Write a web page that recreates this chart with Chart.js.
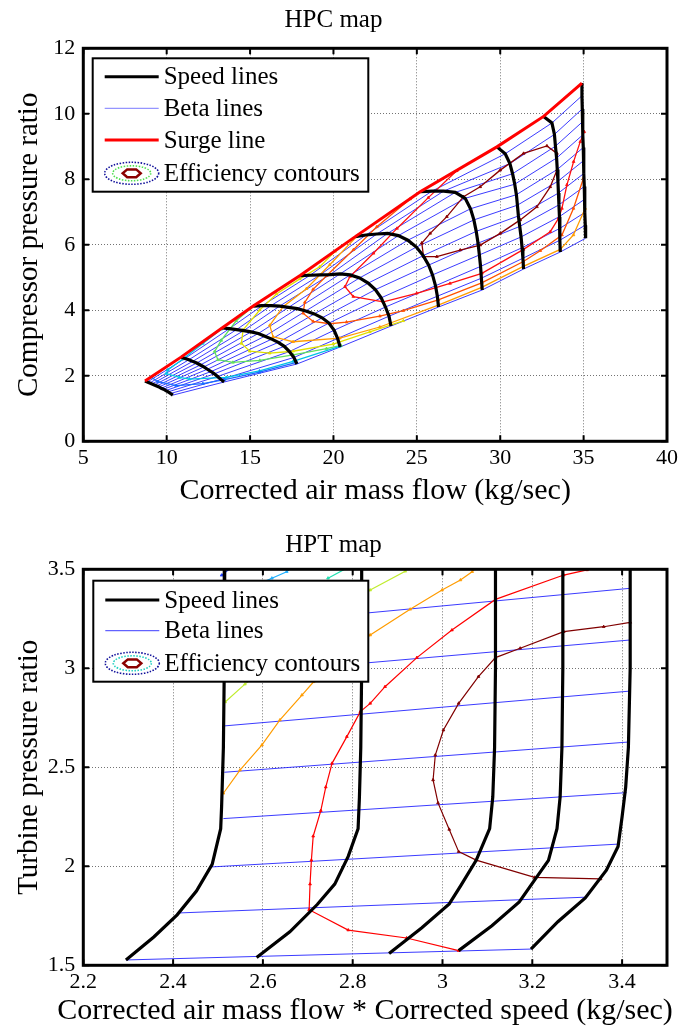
<!DOCTYPE html>
<html>
<head>
<meta charset="utf-8">
<script src="https://cdn.jsdelivr.net/npm/chart.js@4.4.0/dist/chart.umd.min.js"></script>
<style>
  html, body { margin: 0; padding: 0; background: #fff; }
  canvas { display: block; }
</style>
</head>
<body>
<canvas id="hpcChart" width="694" height="514" style="width:694px;height:514px"></canvas>
<canvas id="hptChart" width="694" height="514" style="width:694px;height:514px"></canvas>
<script>
// ---- HPC map data ----
// each speed line: points from the surge line (first) to the choke end (last)
const hpcN1 = [[8.70,1.84],[8.84,1.81],[8.98,1.78],[9.12,1.75],[9.26,1.72],[9.40,1.69],[9.54,1.66],[9.67,1.62],[9.81,1.59],[9.95,1.55],[10.09,1.51],[10.23,1.46],[10.37,1.41]];
const hpcN2 = [[10.86,2.57],[11.10,2.53],[11.33,2.49],[11.56,2.44],[11.80,2.39],[12.02,2.33],[12.23,2.27],[12.44,2.20],[12.66,2.13],[12.86,2.06],[13.05,1.98],[13.25,1.89],[13.44,1.81]];
const hpcN3 = [[13.32,3.46],[13.76,3.44],[14.19,3.41],[14.62,3.38],[15.06,3.34],[15.49,3.29],[15.89,3.21],[16.30,3.12],[16.69,3.02],[17.05,2.90],[17.36,2.74],[17.63,2.56],[17.81,2.36]];
const hpcN4 = [[15.19,4.13],[15.72,4.14],[16.25,4.14],[16.78,4.13],[17.31,4.09],[17.83,4.05],[18.34,3.98],[18.85,3.89],[19.32,3.77],[19.73,3.61],[20.04,3.39],[20.25,3.14],[20.40,2.88]];
const hpcN5 = [[18.00,5.06],[18.60,5.07],[19.20,5.08],[19.80,5.09],[20.40,5.11],[21.00,5.08],[21.57,4.99],[22.08,4.83],[22.51,4.63],[22.86,4.38],[23.12,4.10],[23.33,3.82],[23.45,3.52]];
const hpcN6 = [[21.31,6.25],[21.95,6.30],[22.60,6.33],[23.25,6.35],[23.89,6.28],[24.46,6.14],[24.97,5.93],[25.38,5.67],[25.71,5.38],[25.94,5.08],[26.12,4.75],[26.23,4.43],[26.30,4.10]];
const hpcN7 = [[25.20,7.62],[25.91,7.64],[26.61,7.64],[27.30,7.60],[27.90,7.42],[28.22,7.10],[28.42,6.76],[28.56,6.41],[28.67,6.05],[28.75,5.69],[28.82,5.34],[28.87,4.98],[28.92,4.62]];
const hpcN8 = [[29.80,8.99],[30.30,8.78],[30.58,8.48],[30.74,8.17],[30.87,7.85],[30.97,7.53],[31.03,7.21],[31.09,6.88],[31.17,6.56],[31.25,6.24],[31.31,5.91],[31.36,5.59],[31.40,5.26]];
const hpcN9 = [[32.60,9.92],[33.10,9.72],[33.25,9.37],[33.31,9.01],[33.38,8.65],[33.42,8.30],[33.46,7.94],[33.49,7.58],[33.52,7.22],[33.55,6.86],[33.57,6.50],[33.58,6.14],[33.60,5.78]];
const hpcN10 = [[34.90,10.94],[34.90,10.55],[34.92,10.15],[34.94,9.76],[34.96,9.36],[34.98,8.97],[35.00,8.57],[35.02,8.18],[35.04,7.78],[35.06,7.39],[35.08,6.99],[35.10,6.60],[35.12,6.20]];

// efficiency contours (outer to inner)
const hpcEffBlue = [[9.07,1.96],[9.47,1.82],[10.57,1.70],[12.17,1.76],[13.47,1.88],[15.57,2.11],[17.78,2.41]];
const hpcEffCyan = [[13.27,3.42],[12.17,2.99],[10.97,2.51],[10.07,2.18],[9.97,2.07],[10.77,1.95],[11.37,1.90],[13.57,1.95],[15.57,2.15],[17.58,2.44],[20.38,2.90]];
const hpcEffGreen = [[14.97,4.03],[14.17,3.68],[13.27,3.08],[12.87,2.74],[13.07,2.49],[13.97,2.41],[15.58,2.47],[17.58,2.64],[19.58,2.83],[20.45,2.93]];
const hpcEffYellow = [[20.10,5.80],[19.18,5.33],[17.98,4.96],[16.58,4.50],[15.58,4.01],[14.58,3.40],[14.48,2.99],[14.98,2.75],[16.18,2.69],[17.58,2.75],[19.98,2.97],[22.18,3.34],[24.19,3.68]];
const hpcEffOrange = [[21.50,6.31],[19.78,5.39],[18.38,4.66],[16.98,4.11],[16.18,3.54],[16.38,3.19],[17.58,3.04],[20.38,3.15],[22.78,3.49],[26.29,4.16],[28.89,4.70],[31.39,5.34],[33.60,5.86],[34.39,6.30],[35.09,7.11]];
const hpcEffOrangeRed = [[24.60,7.40],[22.60,6.55],[21.20,5.85],[19.60,5.06],[18.78,4.64],[18.28,4.24],[18.18,3.91],[18.78,3.66],[19.78,3.59],[20.78,3.64],[22.78,3.82],[24.19,3.99],[26.29,4.32],[28.89,4.84],[31.39,5.49],[32.40,5.82],[33.70,6.30],[34.39,7.11],[34.99,8.03]];
const hpcEffRed = [[27.39,8.26],[25.69,7.44],[23.81,6.50],[22.40,5.74],[20.99,5.03],[20.69,4.72],[21.19,4.42],[22.99,4.26],[24.99,4.52],[26.99,4.82],[28.90,5.13],[31.40,5.86],[33.00,6.40],[33.50,6.81],[33.70,7.11],[34.00,7.83],[34.40,8.54],[34.80,9.15],[35.04,9.45]];
const hpcEffDarkRed = [[25.30,6.05],[25.40,5.64],[26.20,5.64],[27.60,5.84],[28.80,5.99],[30.00,6.35],[31.20,6.76],[32.20,7.16],[33.00,7.77],[33.40,8.28],[33.40,8.79],[32.80,9.02],[31.40,8.79],[30.00,8.28],[28.80,7.77],[27.80,7.47],[26.80,6.86],[25.80,6.35],[25.30,6.05]];

const hpcXTicks = [5, 10, 15, 20, 25, 30, 35, 40];
const hpcYTicks = [0, 2, 4, 6, 8, 10, 12];
const hpcLegendLabels = ['Speed lines', 'Beta lines', 'Surge line', 'Efficiency contours'];

// ---- HPT map data ----
const hptN1 = [[2.515,3.51],[2.514,3.00],[2.512,2.60],[2.508,2.30],[2.506,2.19],[2.487,2.01],[2.452,1.875],[2.409,1.755],[2.357,1.643],[2.295,1.527]];
const hptN2 = [[2.820,3.51],[2.820,3.00],[2.818,2.60],[2.815,2.35],[2.812,2.19],[2.790,2.05],[2.760,1.91],[2.721,1.807],[2.660,1.669],[2.586,1.539]];
const hptN3 = [[3.118,3.51],[3.118,3.00],[3.116,2.60],[3.112,2.35],[3.105,2.19],[3.075,2.03],[3.040,1.90],[3.015,1.81],[2.954,1.69],[2.881,1.56]];
const hptN4 = [[3.268,3.51],[3.268,3.00],[3.266,2.60],[3.262,2.35],[3.255,2.19],[3.236,2.03],[3.205,1.93],[3.171,1.82],[3.110,1.70],[3.036,1.574]];
const hptN5 = [[3.418,3.51],[3.418,3.00],[3.414,2.60],[3.408,2.40],[3.400,2.25],[3.391,2.10],[3.365,1.98],[3.318,1.84],[3.257,1.72],[3.197,1.582]];

// beta lines: start on the first speed line, end on the last one
const hptBetaStart = [[2.295,1.527],[2.409,1.764],[2.487,1.997],[2.512,2.241],[2.514,2.475],[2.514,2.709],[2.515,2.965],[2.515,3.212]];
const hptBetaEnd = [[3.197,1.582],[3.318,1.844],[3.391,2.112],[3.410,2.372],[3.416,2.628],[3.418,2.885],[3.418,3.143],[3.418,3.404]];

const hptEffBlue = [[2.508,3.47],[2.530,3.51]];
const hptEffCyan = [[2.600,3.435],[2.620,3.455],[2.653,3.488],[2.665,3.51]];
const hptEffGreen = [[2.745,3.455],[2.790,3.51]];
const hptEffYellowGreen = [[2.516,2.83],[2.560,2.92],[2.700,3.16],[2.839,3.395],[2.917,3.49],[2.923,3.51]];
const hptEffOrange = [[2.512,2.369],[2.549,2.486],[2.598,2.613],[2.638,2.739],[2.687,2.865],[2.713,2.932],[2.780,3.060],[2.839,3.168],[2.928,3.298],[2.999,3.395],[3.040,3.446],[3.066,3.488],[3.075,3.51]];
const hptEffRed = [[3.330,3.505],[3.322,3.497],[3.270,3.471],[3.118,3.348],[3.021,3.193],[2.943,3.054],[2.872,2.907],[2.839,2.823],[2.817,2.781],[2.787,2.655],[2.754,2.520],[2.740,2.400],[2.729,2.281],[2.712,2.152],[2.708,2.031],[2.705,1.910],[2.703,1.781],[2.790,1.678],[2.920,1.638],[3.036,1.574]];
const hptEffDarkRed = [[3.418,3.232],[3.359,3.210],[3.270,3.185],[3.173,3.101],[3.118,3.054],[3.080,2.958],[3.036,2.823],[3.002,2.688],[2.984,2.562],[2.979,2.436],[2.990,2.320],[3.015,2.186],[3.036,2.074],[3.075,2.031],[3.205,1.944],[3.352,1.936]];

const hptXTicks = [2.2, 2.4, 2.6, 2.8, 3.0, 3.2, 3.4];
const hptYTicks = [1.5, 2.0, 2.5, 3.0, 3.5];
const hptLegendLabels = ['Speed lines', 'Beta lines', 'Efficiency contours'];

const SERIF = '"Liberation Serif", "Times New Roman", serif';
const BETA_BLUE = 'rgba(25,25,255,0.85)';

function lineSet(points, color, width, order, markers) {
    return {
        data: points.map(p => ({ x: p[0], y: p[1] })),
        showLine: true,
        borderColor: color,
        backgroundColor: color,
        borderWidth: width,
        pointRadius: markers ? 1.6 : 0,
        pointStyle: 'triangle',
        pointBorderWidth: 0.8,
        tension: 0,
        order: order,
        clip: 0
    };
}

// axes box with inward tick marks (matlab style)
const axesBoxPlugin = {
    id: 'axesBox',
    afterDraw(chart) {
        const { ctx, chartArea: a, scales } = chart;
        ctx.save();
        ctx.strokeStyle = '#000';
        ctx.lineWidth = 2;
        scales.x.ticks.forEach(t => {
            const px = scales.x.getPixelForValue(t.value);
            ctx.beginPath();
            ctx.moveTo(px, a.bottom); ctx.lineTo(px, a.bottom - 6);
            ctx.moveTo(px, a.top); ctx.lineTo(px, a.top + 6);
            ctx.stroke();
        });
        scales.y.ticks.forEach(t => {
            const py = scales.y.getPixelForValue(t.value);
            ctx.beginPath();
            ctx.moveTo(a.left, py); ctx.lineTo(a.left + 6, py);
            ctx.moveTo(a.right, py); ctx.lineTo(a.right - 6, py);
            ctx.stroke();
        });
        ctx.lineWidth = 3;
        ctx.strokeRect(a.left, a.top, a.right - a.left, a.bottom - a.top);
        ctx.restore();
    }
};

// x-axis title that may run wider than the plot area
const wideTitlePlugin = {
    id: 'wideTitle',
    afterDraw(chart, args, opts) {
        if (!opts || !opts.text) return;
        const ctx = chart.ctx;
        ctx.save();
        ctx.font = opts.size + 'px ' + SERIF;
        ctx.fillStyle = '#000';
        ctx.textAlign = 'center';
        ctx.textBaseline = 'middle';
        ctx.fillText(opts.text, opts.x, opts.y);
        ctx.restore();
    }
};

function drawContourIcon(ctx, cx, cy, colors) {
    ctx.save();
    ctx.setLineDash([1.5, 1.5]);
    ctx.lineWidth = 1.6;
    ctx.strokeStyle = colors[0];
    ctx.beginPath(); ctx.ellipse(cx, cy, 27, 11, 0, 0, Math.PI * 2); ctx.stroke();
    ctx.strokeStyle = colors[1];
    ctx.beginPath(); ctx.ellipse(cx, cy, 19, 7.5, 0, 0, Math.PI * 2); ctx.stroke();
    ctx.setLineDash([]);
    ctx.lineWidth = 2.5;
    ctx.strokeStyle = colors[2];
    ctx.beginPath();
    for (let i = 0; i < 6; i++) {
        const ang = i * Math.PI / 3;
        const px = cx + 9 * Math.cos(ang), py = cy + 4.5 * Math.sin(ang);
        if (i === 0) ctx.moveTo(px, py); else ctx.lineTo(px, py);
    }
    ctx.closePath();
    ctx.stroke();
    ctx.restore();
}

// legend drawn inside the plot area
const mapLegendPlugin = {
    id: 'mapLegend',
    afterDatasetsDraw(chart, args, opts) {
        if (!opts || !opts.rows) return;
        const ctx = chart.ctx;
        const [bx, by, bw, bh] = opts.box;
        ctx.save();
        ctx.fillStyle = '#fff';
        ctx.fillRect(bx, by, bw, bh);
        ctx.strokeStyle = '#000';
        ctx.lineWidth = 2;
        ctx.strokeRect(bx, by, bw, bh);
        ctx.font = '25px ' + SERIF;
        ctx.textBaseline = 'middle';
        ctx.textAlign = 'left';
        opts.rows.forEach(r => {
            if (r.kind === 'line') {
                ctx.strokeStyle = r.color;
                ctx.lineWidth = r.width;
                ctx.beginPath();
                ctx.moveTo(bx + 12, r.y);
                ctx.lineTo(bx + 66, r.y);
                ctx.stroke();
            } else {
                drawContourIcon(ctx, bx + 39, r.y, r.colors);
            }
            ctx.fillStyle = '#000';
            ctx.fillText(r.label, bx + 71, r.y + 1);
        });
        ctx.restore();
    }
};

function mapOptions(cfg) {
    const tickFont = { family: SERIF, size: 22 };
    return {
        responsive: false,
        animation: false,
        events: [],
        layout: { padding: { left: 0, right: 27, top: 0, bottom: 0 } },
        plugins: {
            legend: { display: false },
            tooltip: { enabled: false },
            title: {
                display: true,
                text: cfg.title,
                color: '#000',
                font: { family: SERIF, size: 25, weight: 'normal' },
                padding: cfg.titlePad
            },
            mapLegend: cfg.legend,
            wideTitle: cfg.wideTitle || {}
        },
        scales: {
            x: {
                type: 'linear',
                min: cfg.xMin,
                max: cfg.xMax,
                afterFit: s => { s.height = cfg.xHeight; },
                afterBuildTicks: s => { s.ticks = cfg.xTicks.map(v => ({ value: v })); },
                grid: { color: 'rgba(0,0,0,0.55)', lineWidth: 1, drawTicks: false },
                border: { display: false, dash: [1, 2] },
                ticks: { color: '#000', font: tickFont, padding: 4, maxRotation: 0, callback: v => String(+v.toFixed(1)) },
                title: { display: !!cfg.xTitle, text: cfg.xTitle || '', color: '#000', font: { family: SERIF, size: 30 }, padding: { top: 0, bottom: 5 } }
            },
            y: {
                type: 'linear',
                min: cfg.yMin,
                max: cfg.yMax,
                afterFit: s => { s.width = 83.3; },
                afterBuildTicks: s => { s.ticks = cfg.yTicks.map(v => ({ value: v })); },
                grid: { color: 'rgba(0,0,0,0.55)', lineWidth: 1, drawTicks: false },
                border: { display: false, dash: [1, 2] },
                ticks: { color: '#000', font: tickFont, padding: 8, callback: v => String(+v.toFixed(1)) },
                title: { display: true, text: cfg.yTitle, color: '#000', font: { family: SERIF, size: 29 }, padding: { top: 12, bottom: 0 } }
            }
        }
    };
}

// ---- HPC chart ----
const hpcSpeedLines = [hpcN1, hpcN2, hpcN3, hpcN4, hpcN5, hpcN6, hpcN7, hpcN8, hpcN9, hpcN10];
const hpcContours = [
    [hpcEffBlue, '#1a6cff'],
    [hpcEffCyan, '#00c4e4'],
    [hpcEffGreen, '#5fe05f'],
    [hpcEffYellow, '#e0e000'],
    [hpcEffOrange, '#ff9c00'],
    [hpcEffOrangeRed, '#ff5200'],
    [hpcEffRed, '#ff1010'],
    [hpcEffDarkRed, '#8b0000']
];
const hpcDatasets = [];
// beta lines join the same point index on every speed line
for (let k = 1; k < hpcN1.length; k++) {
    hpcDatasets.push(lineSet(hpcSpeedLines.map(s => s[k]), BETA_BLUE, 1, 3, false));
}
hpcContours.forEach(c => hpcDatasets.push(lineSet(c[0], c[1], 1.3, 2, true)));
hpcSpeedLines.forEach(s => hpcDatasets.push(lineSet(s, '#000', 3.2, 1, false)));
hpcDatasets.push(lineSet(hpcSpeedLines.map(s => s[0]), '#ff0000', 3, 0, false)); // surge line

new Chart(document.getElementById('hpcChart'), {
    type: 'scatter',
    data: { datasets: hpcDatasets },
    options: mapOptions({
        title: 'HPC map',
        titlePad: { top: 5, bottom: 13.3 },
        xMin: 5, xMax: 40, yMin: 0, yMax: 12,
        xTicks: hpcXTicks, yTicks: hpcYTicks,
        xHeight: 72.7,
        xTitle: 'Corrected air mass flow (kg/sec)',
        yTitle: 'Compressor pressure ratio',
        legend: {
            box: [92.7, 58.3, 275.6, 133.4],
            rows: [
                { label: hpcLegendLabels[0], kind: 'line', color: '#000', width: 3, y: 76.7 },
                { label: hpcLegendLabels[1], kind: 'line', color: 'rgba(90,90,255,0.8)', width: 1, y: 108.3 },
                { label: hpcLegendLabels[2], kind: 'line', color: '#ff0000', width: 3, y: 140 },
                { label: hpcLegendLabels[3], kind: 'contour', colors: ['#10109a', '#50e050', '#8b0000'], y: 173.3 }
            ]
        }
    }),
    plugins: [mapLegendPlugin, axesBoxPlugin]
});

// ---- HPT chart ----
const hptSpeedLines = [hptN1, hptN2, hptN3, hptN4, hptN5];
const hptContours = [
    [hptEffBlue, '#2040ff'],
    [hptEffCyan, '#20b0ff'],
    [hptEffGreen, '#20e0b0'],
    [hptEffYellowGreen, '#c0ec30'],
    [hptEffOrange, '#ff9c00'],
    [hptEffRed, '#ff0000'],
    [hptEffDarkRed, '#800000']
];
const hptDatasets = [];
hptBetaStart.forEach((p, i) => hptDatasets.push(lineSet([p, hptBetaEnd[i]], BETA_BLUE, 1, 3, false)));
hptContours.forEach(c => hptDatasets.push(lineSet(c[0], c[1], 1.2, 2, true)));
hptSpeedLines.forEach(s => hptDatasets.push(lineSet(s, '#000', 3.2, 1, false)));

new Chart(document.getElementById('hptChart'), {
    type: 'scatter',
    data: { datasets: hptDatasets },
    options: mapOptions({
        title: 'HPT map',
        titlePad: { top: 16, bottom: 9.3 },
        xMin: 2.2, xMax: 3.5, yMin: 1.5, yMax: 3.5,
        xTicks: hptXTicks, yTicks: hptYTicks,
        xHeight: 62.7,
        xTitle: '',
        wideTitle: { text: 'Corrected air mass flow * Corrected speed (kg/sec)', x: 365, y: 497, size: 30 },
        yTitle: 'Turbine pressure ratio',
        legend: {
            box: [93.3, 66.7, 275, 101],
            rows: [
                { label: hptLegendLabels[0], kind: 'line', color: '#000', width: 3, y: 86 },
                { label: hptLegendLabels[1], kind: 'line', color: 'rgba(40,40,255,0.9)', width: 1, y: 116.7 },
                { label: hptLegendLabels[2], kind: 'contour', colors: ['#10109a', '#20d0c0', '#8b0000'], y: 149.3 }
            ]
        }
    }),
    plugins: [mapLegendPlugin, axesBoxPlugin, wideTitlePlugin]
});
</script>
</body>
</html>
